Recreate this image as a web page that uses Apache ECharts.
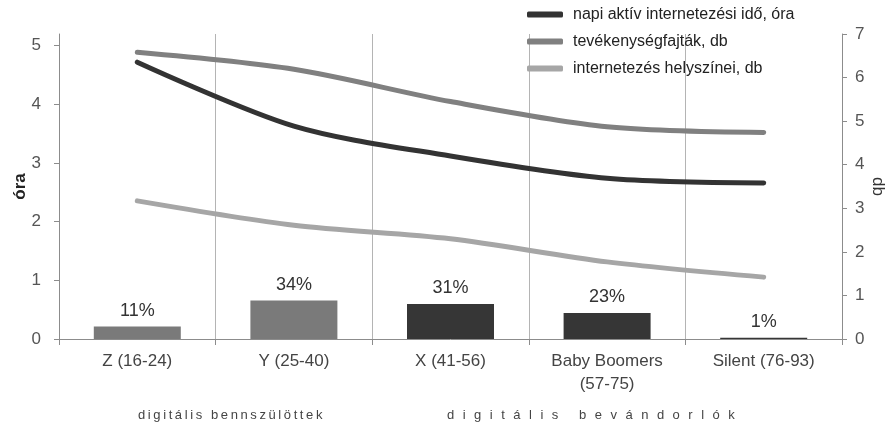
<!DOCTYPE html>
<html>
<head>
<meta charset="utf-8">
<script src="https://cdn.jsdelivr.net/npm/echarts@6/dist/echarts.min.js"></script>
<style>
  html, body { margin: 0; padding: 0; background: #fff; }
  #wrap { position: relative; width: 885px; height: 429px; }
  #chart { width: 885px; height: 429px; }
  .caption {
    position: absolute; top: 407px; white-space: nowrap;
    font-family: Arial, "Liberation Sans", sans-serif; font-size: 13px; color: #444;
  }
  #capA { left: 138px; letter-spacing: 2.6px; }
  #capB { left: 447px; letter-spacing: 8.5px; }
</style>
</head>
<body>
<div id="wrap">
  <div id="chart"></div>
  <div class="caption" id="capA">digitális bennszülöttek</div>
  <div class="caption" id="capB">digitális bevándorlók</div>
</div>
<script>
// Generations on the category axis
const categories = ['Z (16-24)', 'Y (25-40)', 'X (41-56)', 'Baby Boomers\n(57-75)', 'Silent (76-93)'];
// Share of each generation (%), drawn as bars
const shares = [11, 34, 31, 23, 1];
// Daily active internet time, hours (left axis)
const hours = [4.72, 3.63, 3.12, 2.74, 2.66];
// Number of activity types (right axis)
const activities = [6.58, 6.19, 5.45, 4.87, 4.74];
// Number of internet usage locations (right axis)
const places = [3.17, 2.61, 2.30, 1.77, 1.42];
// Tick values
const hourTicks = [0, 1, 2, 3, 4, 5];
const countTicks = [0, 1, 2, 3, 4, 5, 6, 7];

const seriesNames = ['napi aktív internetezési idő, óra', 'tevékenységfajták, db', 'internetezés helyszínei, db'];
const barColors = ['#7a7a7a', '#7a7a7a', '#363636', '#363636', '#363636'];

const FONT = 'Arial, "Liberation Sans", sans-serif';
const axisGray = '#8c8c8c';

const chart = echarts.init(document.getElementById('chart'), null, { renderer: 'canvas' });
chart.setOption({
  animation: false,
  backgroundColor: '#fff',
  textStyle: { fontFamily: FONT },
  grid: { left: 59, right: 43, top: 34, bottom: 90, containLabel: false, outerBoundsMode: 'none' },
  legend: {
    orient: 'vertical',
    left: 522,
    top: 0,
    data: seriesNames,
    icon: 'roundRect',
    itemWidth: 36,
    itemHeight: 6,
    itemGap: 8,
    textStyle: { fontSize: 16, color: '#222', lineHeight: 19, padding: [0, 0, 0, 5], fontFamily: FONT }
  },
  xAxis: {
    type: 'category',
    data: categories,
    boundaryGap: true,
    axisLine: { lineStyle: { color: axisGray, width: 1 } },
    axisTick: { show: true, length: 6, lineStyle: { color: axisGray } },
    splitLine: { show: true, lineStyle: { color: '#b4b4b4', width: 1 } },
    axisLabel: { fontSize: 17, color: '#444', margin: 11, lineHeight: 23, fontFamily: FONT }
  },
  yAxis: [
    {
      type: 'value',
      position: 'left',
      min: 0,
      max: 5.2,
      interval: 1,
      name: 'óra',
      nameLocation: 'middle',
      nameMoveOverlap: false,
      nameGap: 30,
      nameTextStyle: { fontSize: 17, fontWeight: 'bold', color: '#222', fontFamily: FONT },
      axisLine: { show: true, lineStyle: { color: axisGray } },
      axisTick: { show: true, length: 5, lineStyle: { color: axisGray }, customValues: hourTicks },
      axisLabel: { fontSize: 17, color: '#555', margin: 18, customValues: hourTicks, fontFamily: FONT },
      splitLine: { show: false }
    },
    {
      type: 'value',
      position: 'right',
      min: 0,
      max: 7,
      interval: 1,
      name: 'db',
      nameLocation: 'middle',
      nameRotate: -90,
      nameMoveOverlap: false,
      nameGap: 27,
      nameTextStyle: { fontSize: 17, color: '#333', fontFamily: FONT },
      axisLine: { show: true, lineStyle: { color: axisGray } },
      axisTick: { show: true, length: 5, lineStyle: { color: axisGray }, customValues: countTicks },
      axisLabel: { fontSize: 17, color: '#555', margin: 13, customValues: countTicks, fontFamily: FONT },
      splitLine: { show: false }
    },
    {
      type: 'value',
      show: false,
      min: 0,
      max: 270
    }
  ],
  series: [
    {
      name: 'korosztály aránya',
      type: 'bar',
      yAxisIndex: 2,
      barWidth: 87,
      data: shares.map((v, i) => ({ value: v, itemStyle: { color: barColors[i] } })),
      label: {
        show: true,
        position: 'top',
        distance: 7,
        formatter: '{c}%',
        fontSize: 18,
        color: '#333',
        fontFamily: FONT
      },
      z: 1
    },
    {
      name: seriesNames[0],
      type: 'line',
      yAxisIndex: 0,
      data: hours,
      smooth: 0.3,
      showSymbol: false,
      lineStyle: { color: '#333', width: 5, cap: 'round' },
      itemStyle: { color: '#333' },
      z: 4
    },
    {
      name: seriesNames[1],
      type: 'line',
      yAxisIndex: 1,
      data: activities,
      smooth: 0.3,
      showSymbol: false,
      lineStyle: { color: '#808080', width: 5, cap: 'round' },
      itemStyle: { color: '#808080' },
      z: 3
    },
    {
      name: seriesNames[2],
      type: 'line',
      yAxisIndex: 1,
      data: places,
      smooth: 0.3,
      showSymbol: false,
      lineStyle: { color: '#a6a6a6', width: 5, cap: 'round' },
      itemStyle: { color: '#a6a6a6' },
      z: 2
    }
  ]
});
</script>
</body>
</html>
